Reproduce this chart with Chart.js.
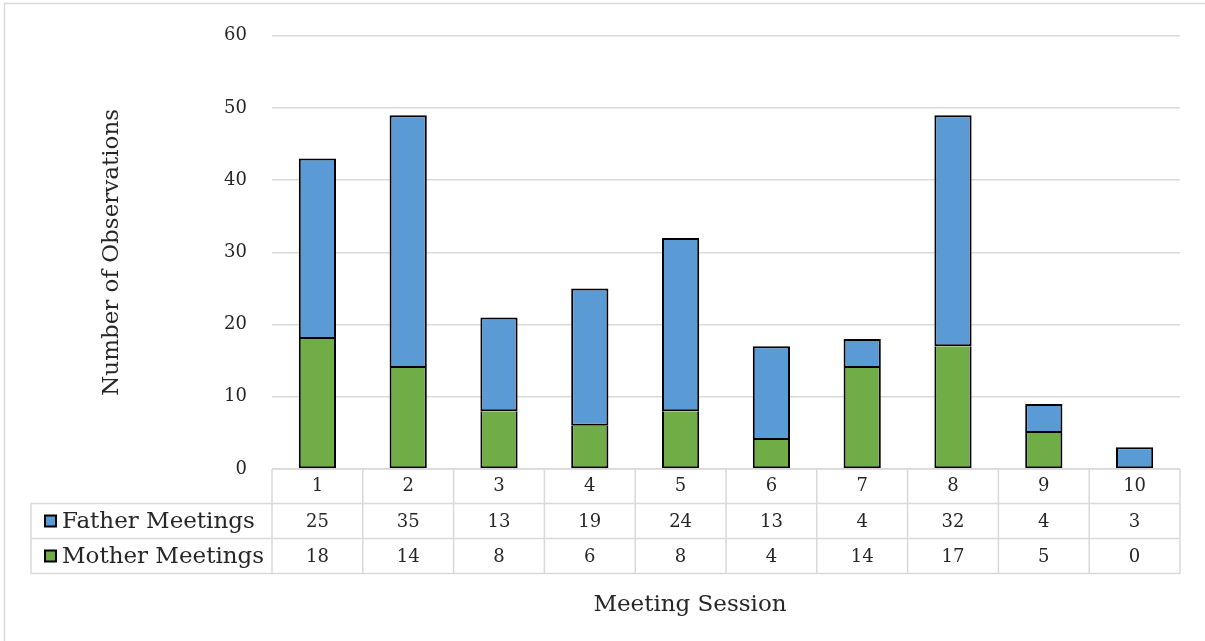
<!DOCTYPE html>
<html>
<head>
<meta charset="utf-8">
<script src="https://cdn.jsdelivr.net/npm/chart.js@4"></script>
<style>
  html, body { margin: 0; padding: 0; background: #ffffff; }
  #wrap { width: 1205px; height: 641px; position: relative; }
</style>
</head>
<body>
<div id="wrap"><canvas id="c" width="1205" height="641"></canvas></div>
<script>
const categories = ['1', '2', '3', '4', '5', '6', '7', '8', '9', '10'];
const fatherMeetings = [25, 35, 13, 19, 24, 13, 4, 32, 4, 3];
const motherMeetings = [18, 14, 8, 6, 8, 4, 14, 17, 5, 0];
const seriesNames = ['Father Meetings', 'Mother Meetings'];
const yTicks = [0, 10, 20, 30, 40, 50, 60];
const xTitle = 'Meeting Session';
const yTitle = 'Number of Observations';

const FONT = "'DejaVu Serif', serif";
const TEXT = '#262626';
const GRID = '#d9d9d9';
const BLUE = '#5b9bd5';
const GREEN = '#70ad47';

const tablePlugin = {
  id: 'dataTable',
  beforeDraw(chart) {
    const ctx = chart.ctx;
    ctx.save();
    ctx.fillStyle = '#ffffff';
    ctx.fillRect(0, 0, chart.width, chart.height);
    ctx.strokeStyle = GRID;
    ctx.lineWidth = 1.5;
    ctx.strokeRect(4.5, 3.5, chart.width + 20, chart.height + 20);
    ctx.restore();
  },
  afterDraw(chart) {
    const ctx = chart.ctx;
    const x = chart.scales.x;
    const area = chart.chartArea;
    const n = categories.length;
    const colW = (x.right - x.left) / n;
    const rowH = 35;
    const top = area.bottom;
    const r1 = top + rowH - 0.5;
    const r2 = r1 + rowH;
    const r3 = r2 + rowH;
    const legendLeft = 31;

    ctx.save();
    ctx.strokeStyle = GRID;
    ctx.lineWidth = 1.5;
    ctx.beginPath();
    ctx.moveTo(x.left, top); ctx.lineTo(x.right, top);
    [r1, r2, r3].forEach(y => { ctx.moveTo(legendLeft, y); ctx.lineTo(x.right, y); });
    ctx.moveTo(legendLeft, r1); ctx.lineTo(legendLeft, r3);
    for (let i = 0; i <= n; i++) {
      const px = x.left + i * colW;
      ctx.moveTo(px, top); ctx.lineTo(px, r3);
    }
    ctx.stroke();

    // values
    ctx.fillStyle = TEXT;
    ctx.font = "18px " + FONT;
    ctx.textAlign = 'center';
    ctx.textBaseline = 'middle';
    const rows = [fatherMeetings, motherMeetings];
    rows.forEach((vals, ri) => {
      const cy = (ri === 0 ? (r1 + r2) / 2 : (r2 + r3) / 2) + 1;
      vals.forEach((v, i) => {
        ctx.fillText(String(v), x.getPixelForValue(i), cy);
      });
    });

    // legend keys
    const colors = [BLUE, GREEN];
    ctx.textAlign = 'left';
    ctx.font = "23px " + FONT;
    seriesNames.forEach((name, ri) => {
      const cy = ri === 0 ? (r1 + r2) / 2 : (r2 + r3) / 2;
      ctx.fillStyle = colors[ri];
      ctx.fillRect(45, cy - 5.5, 11, 11);
      ctx.strokeStyle = '#000000';
      ctx.lineWidth = 2;
      ctx.strokeRect(45, cy - 5.5, 11, 11);
      ctx.fillStyle = TEXT;
      ctx.fillText(name, 62, cy + 1);
    });

    // x axis title
    ctx.textAlign = 'center';
    ctx.font = "23px " + FONT;
    ctx.fillText(xTitle, 690, 605);
    ctx.restore();
  }
};

new Chart(document.getElementById('c'), {
  type: 'bar',
  data: {
    labels: categories,
    datasets: [
      {
        label: seriesNames[1],
        data: motherMeetings,
        backgroundColor: GREEN,
        borderColor: '#000000',
        borderWidth: 2,
        borderSkipped: 'top',
        barPercentage: 0.41,
        categoryPercentage: 1.0
      },
      {
        label: seriesNames[0],
        data: fatherMeetings,
        backgroundColor: BLUE,
        borderColor: '#000000',
        borderWidth: 2,
        borderSkipped: false,
        barPercentage: 0.41,
        categoryPercentage: 1.0
      }
    ]
  },
  options: {
    responsive: false,
    animation: false,
    devicePixelRatio: 1,
    layout: { padding: { top: 33, right: 25, bottom: 0, left: 0 } },
    plugins: {
      legend: { display: false },
      tooltip: { enabled: false }
    },
    scales: {
      x: {
        stacked: true,
        grid: { display: false, drawTicks: false },
        border: { display: false },
        ticks: { color: TEXT, font: { family: FONT, size: 18 }, padding: 7, maxRotation: 0 },
        title: { display: false },
        afterFit(s) { s.height = 172; }
      },
      y: {
        stacked: true,
        min: 0,
        max: 60,
        afterBuildTicks(s) { s.ticks = yTicks.map(v => ({ value: v })); },
        grid: { color: GRID, lineWidth: 1.5, drawTicks: false },
        border: { display: false },
        ticks: { color: TEXT, font: { family: FONT, size: 18 }, padding: 25 },
        title: { display: true, text: yTitle, color: TEXT, font: { family: FONT, size: 23 }, padding: { top: 98, bottom: 0 } },
        afterFit(s) { s.width = 272; }
      }
    }
  },
  plugins: [tablePlugin]
});
</script>
</body>
</html>
